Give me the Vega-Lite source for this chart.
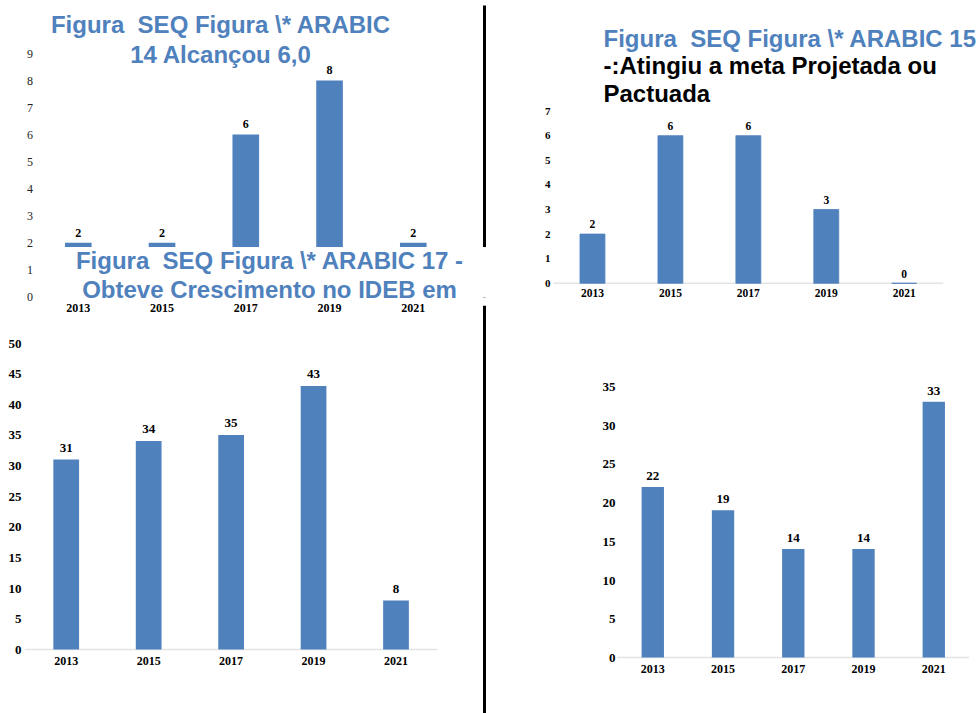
{
  "$schema": "https://vega.github.io/schema/vega-lite/v6.json",
  "padding": {"left": 8, "top": 5, "right": 0, "bottom": 0},
  "datasets": {
    "f14": [{"ano": "2013", "valor": 2}, {"ano": "2015", "valor": 2}, {"ano": "2017", "valor": 6}, {"ano": "2019", "valor": 8}, {"ano": "2021", "valor": 2}],
    "f15": [{"ano": "2013", "valor": 2}, {"ano": "2015", "valor": 6}, {"ano": "2017", "valor": 6}, {"ano": "2019", "valor": 3}, {"ano": "2021", "valor": 0}],
    "f17": [{"ano": "2013", "valor": 31}, {"ano": "2015", "valor": 34}, {"ano": "2017", "valor": 35}, {"ano": "2019", "valor": 43}, {"ano": "2021", "valor": 8}],
    "f18": [{"ano": "2013", "valor": 22}, {"ano": "2015", "valor": 19}, {"ano": "2017", "valor": 14}, {"ano": "2019", "valor": 14}, {"ano": "2021", "valor": 33}]
  },
  "columns": 2,
  "bounds": "flush",
  "align": "each",
  "spacing": {"row": 8.3, "column": 63.5},
  "concat": [
    {
      "width": 465, "height": 291.7,
      "data": {"name": "f14"},
      "title": {"text": ["Figura \u00a0SEQ Figura \\* ARABIC", "14 Alcançou 6,0"], "frame": "group", "anchor": "middle", "dx": -37, "offset": -63, "lineHeight": 30},
      "layer": [
        {
          "mark": {"type": "bar", "color": "#4F81BD", "width": {"band": 0.318}},
          "encoding": {
            "x": {"field": "ano", "type": "nominal", "scale": {"paddingInner": 0, "paddingOuter": 0.276, "align": 0.2465}, "axis": {"title": null, "labelAngle": 0, "labelPadding": 6, "labelFontSize": 12}},
            "y": {"field": "valor", "type": "quantitative", "scale": {"domain": [0, 10.79], "nice": false, "zero": false}, "axis": {"orient": "left", "values": [0, 1, 2, 3, 4, 5, 6, 7, 8, 9], "title": null, "offset": -11.4, "labelFontWeight": "normal", "labelFontSize": 12, "labelPadding": 4, "labelColor": "#222", "zindex": 1}}
          }
        },
        {
          "mark": {"type": "text", "baseline": "bottom", "dy": -3, "font": "Liberation Serif", "fontWeight": "bold", "fontSize": 12, "color": "#000"},
          "encoding": {
            "x": {"field": "ano", "type": "nominal"},
            "y": {"field": "valor", "type": "quantitative", "axis": null},
            "text": {"field": "valor", "type": "quantitative"}
          }
        },
        {
          "mark": {"type": "rect", "color": "white"},
          "encoding": {
            "y": {"datum": 0, "type": "quantitative", "axis": {"orient": "right", "offset": -6, "domain": true, "domainColor": "#000", "domainWidth": 3, "labels": false, "ticks": false, "title": null, "zindex": 0}},
            "y2": {"datum": 1.82}
          }
        }
      ],
      "resolve": {"axis": {"y": "independent"}}
    },
    {
      "width": 389.7, "height": 278.3,
      "data": {"name": "f15"},
      "title": {"text": "Figura \u00a0SEQ Figura \\* ARABIC 15", "subtitle": ["-:Atingiu a meta Projetada ou", "Pactuada"], "frame": "group", "anchor": "start", "dx": 50, "offset": -101.5, "subtitleFont": "Liberation Sans", "subtitleFontWeight": "bold", "subtitleFontSize": 24, "subtitleColor": "#000", "subtitleLineHeight": 27.5, "subtitlePadding": 3},
      "layer": [
        {
          "mark": {"type": "tick", "color": "#D9D9D9", "thickness": 1.5, "size": 78},
          "encoding": {
            "x": {"field": "ano", "type": "nominal", "scale": {"paddingInner": 0, "paddingOuter": 0, "align": 0.5}, "axis": {"title": null, "labelAngle": 0, "labelPadding": 4, "labelFontSize": 11.5}},
            "y": {"datum": 0, "type": "quantitative", "scale": {"domain": [0, 11.31], "nice": false, "zero": false}, "axis": {"values": [0, 1, 2, 3, 4, 5, 6, 7], "title": null, "labelFontSize": 11, "labelPadding": 3.5}}
          }
        },
        {
          "mark": {"type": "bar", "color": "#4F81BD", "stroke": "#4F81BD", "strokeWidth": 0.8, "width": {"band": 0.32}},
          "encoding": {
            "x": {"field": "ano", "type": "nominal"},
            "y": {"field": "valor", "type": "quantitative", "axis": {"values": [0, 1, 2, 3, 4, 5, 6, 7], "title": null, "labelFontSize": 11, "labelPadding": 3.5}}
          }
        },
        {
          "mark": {"type": "text", "baseline": "bottom", "dy": -3.6, "font": "Liberation Serif", "fontWeight": "bold", "fontSize": 11.5, "color": "#000"},
          "encoding": {
            "x": {"field": "ano", "type": "nominal"},
            "y": {"field": "valor", "type": "quantitative", "axis": {"values": [0, 1, 2, 3, 4, 5, 6, 7], "title": null, "labelFontSize": 11, "labelPadding": 3.5}},
            "text": {"field": "valor", "type": "quantitative"}
          }
        }
      ]
    },
    {
      "width": 465, "height": 408,
      "data": {"name": "f17"},
      "title": {"text": ["Figura \u00a0SEQ Figura \\* ARABIC 17 -", "Obteve Crescimento no IDEB em"], "frame": "group", "anchor": "middle", "dx": 12, "offset": 2.5, "lineHeight": 28.7},
      "layer": [
        {
          "mark": {"type": "tick", "color": "#D9D9D9", "thickness": 1.5, "size": 83},
          "encoding": {
            "x": {"field": "ano", "type": "nominal", "scale": {"paddingInner": 0, "paddingOuter": 0.32, "align": 0}, "axis": {"title": null, "labelAngle": 0, "labelPadding": 5.5, "labelFontSize": 12, "offset": -63.8}},
            "y": {"datum": 0, "type": "quantitative", "scale": {"domain": [-10.4, 56.15], "nice": false, "zero": false}, "axis": {"orient": "right", "offset": -6, "domain": true, "domainColor": "#000", "domainWidth": 3, "labels": false, "ticks": false, "title": null}}
          }
        },
        {
          "mark": {"type": "bar", "color": "#4F81BD", "width": {"band": 0.312}},
          "encoding": {
            "x": {"field": "ano", "type": "nominal"},
            "y": {"field": "valor", "type": "quantitative", "axis": {"orient": "left", "values": [0, 5, 10, 15, 20, 25, 30, 35, 40, 45, 50], "title": null, "labelFontSize": 13, "labelPadding": 4}}
          }
        },
        {
          "mark": {"type": "text", "baseline": "bottom", "dy": -4.6, "font": "Liberation Serif", "fontWeight": "bold", "fontSize": 13, "color": "#000"},
          "encoding": {
            "x": {"field": "ano", "type": "nominal"},
            "y": {"field": "valor", "type": "quantitative", "axis": null},
            "text": {"field": "valor", "type": "quantitative"}
          }
        }
      ],
      "resolve": {"axis": {"y": "independent"}}
    },
    {
      "width": 415.4, "height": 352.3,
      "data": {"name": "f18"},
      "layer": [
        {
          "mark": {"type": "tick", "color": "#D9D9D9", "thickness": 1.5, "size": 71},
          "encoding": {
            "x": {"field": "ano", "type": "nominal", "scale": {"paddingInner": 0, "paddingOuter": 0.4566, "align": 1}, "axis": {"title": null, "labelAngle": 0, "labelPadding": 6, "labelFontSize": 12}},
            "y": {"datum": 0, "type": "quantitative", "scale": {"domain": [0, 45.46], "nice": false, "zero": false}, "axis": {"values": [0, 5, 10, 15, 20, 25, 30, 35], "title": null, "labelFontSize": 13, "labelPadding": 3, "offset": -64.5}}
          }
        },
        {
          "mark": {"type": "bar", "color": "#4F81BD", "width": {"band": 0.318}},
          "encoding": {
            "x": {"field": "ano", "type": "nominal"},
            "y": {"field": "valor", "type": "quantitative", "axis": {"values": [0, 5, 10, 15, 20, 25, 30, 35], "title": null, "labelFontSize": 13, "labelPadding": 3, "offset": -64.5}}
          }
        },
        {
          "mark": {"type": "text", "baseline": "bottom", "dy": -4, "font": "Liberation Serif", "fontWeight": "bold", "fontSize": 13, "color": "#000"},
          "encoding": {
            "x": {"field": "ano", "type": "nominal"},
            "y": {"field": "valor", "type": "quantitative", "axis": {"values": [0, 5, 10, 15, 20, 25, 30, 35], "title": null, "labelFontSize": 13, "labelPadding": 3, "offset": -64.5}},
            "text": {"field": "valor", "type": "quantitative"}
          }
        }
      ]
    }
  ],
  "config": {
    "view": {"stroke": null},
    "axis": {"grid": false, "domain": false, "ticks": false, "labelFont": "Liberation Serif", "labelFontWeight": "bold", "labelColor": "#000"},
    "title": {"font": "Liberation Sans", "fontWeight": "bold", "fontSize": 24, "color": "#4F81BD"}
  }
}
